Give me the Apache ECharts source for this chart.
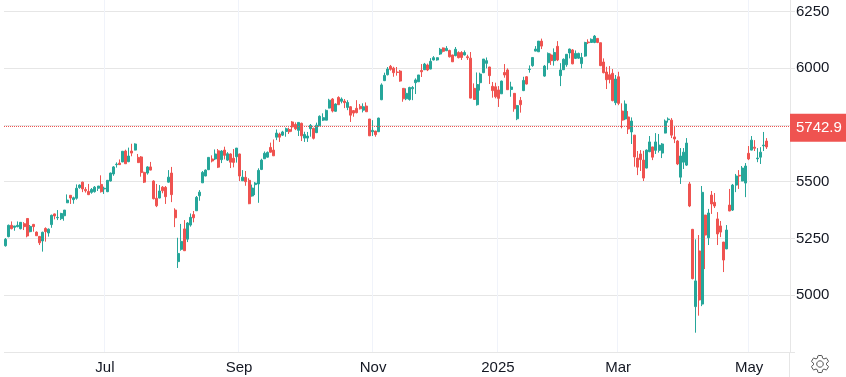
<!DOCTYPE html>
<html><head><meta charset="utf-8">
<style>html,body{margin:0;padding:0;background:#fff}#c{width:846px;height:377px}</style>
<script src="https://cdn.jsdelivr.net/npm/echarts@6/dist/echarts.min.js"></script>
</head><body><div id="c"></div>
<script>
const opens = [
5218,5258,5308,5299,5302,5293,5315,5338,5280,5312,
5278,5259,5239,5294,5274,5311,5358,5341,5337,5350,
5407,5440,5421,5427,5474,5498,5466,5457,5453,5456,
5471,5488,5468,5456,5503,5534,5575,5582,5587,5635,
5588,5635,5639,5607,5609,5541,5538,5565,5503,5427,
5428,5476,5475,5498,5538,5375,5148,5202,5292,5247,
5309,5355,5372,5438,5495,5525,5553,5600,5600,5636,
5597,5639,5595,5622,5603,5610,5622,5504,5519,5506,
5437,5487,5490,5554,5601,5608,5651,5639,5696,5710,
5705,5721,5730,5763,5752,5726,5757,5692,5692,5733,
5735,5716,5746,5771,5771,5824,5864,5810,5871,5854,
5855,5827,5830,5813,5823,5832,5815,5833,5776,5720,
5723,5720,5861,5945,5971,6008,6000,5983,5987,5911,
5865,5862,5909,5936,5940,5990,5993,6014,5996,6036,
6036,6062,6089,6077,6078,6058,6055,6069,6069,6058,
6050,6044,5911,5839,5936,5980,6021,6005,5920,5918,
5904,5887,5981,5992,5906,5889,5777,5858,5901,5962,
5994,6011,6075,6072,6119,5965,6024,6058,6033,6096,
5967,5993,6015,6067,6080,6043,6044,6020,6053,6115,
6113,6113,6131,6112,6027,5983,5971,5977,5848,5962,
5811,5776,5785,5719,5705,5604,5622,5595,5560,5632,
5653,5638,5638,5626,5714,5773,5771,5697,5679,5520,
5586,5573,5490,5290,4950,5195,4961,5353,5253,5441,
5409,5336,5305,5234,5204,5397,5375,5485,5528,5503,
5494,5625,5639,5652,5601,5608,5658,5679];
const closes = [
5246,5308,5293,5305,5308,5321,5302,5261,5303,5302,
5262,5231,5277,5280,5291,5352,5349,5343,5360,5375,
5419,5428,5429,5471,5485,5468,5460,5443,5466,5476,
5481,5456,5471,5506,5538,5565,5577,5575,5634,5579,
5613,5626,5666,5584,5540,5498,5565,5551,5425,5394,
5459,5460,5434,5520,5443,5341,5184,5237,5196,5318,
5343,5341,5431,5454,5541,5551,5607,5591,5622,5564,
5635,5616,5623,5586,5585,5648,5525,5520,5500,5403,
5472,5494,5550,5595,5625,5629,5630,5614,5714,5696,
5719,5733,5720,5741,5733,5761,5702,5708,5701,5748,
5691,5749,5788,5782,5814,5859,5811,5842,5839,5864,
5848,5849,5793,5802,5804,5821,5830,5808,5702,5726,
5707,5780,5926,5968,5996,5995,5980,5981,5943,5865,
5889,5915,5915,5948,5970,5984,6018,5992,6030,6046,
6046,6083,6074,6087,6050,6028,6083,6046,6047,6069,
6046,5868,5862,5928,5974,6040,6033,5967,5901,5874,
5867,5943,5970,5905,5917,5821,5835,5839,5946,5930,
5996,6047,6084,6119,6097,6009,6065,6033,6069,6036,
5992,6039,6061,6084,6019,6065,6065,6047,6113,6112,
6127,6141,6113,6011,5980,5949,5950,5857,5952,5845,
5771,5842,5732,5767,5609,5564,5597,5516,5639,5675,
5608,5675,5661,5666,5767,5776,5705,5688,5578,5613,
5630,5670,5393,5073,5063,4979,5453,5265,5362,5402,
5393,5270,5278,5155,5287,5371,5485,5525,5525,5560,
5569,5600,5683,5647,5604,5630,5661,5653];
const lows = [
5214,5255,5290,5284,5299,5290,5287,5255,5277,5280,
5261,5221,5192,5236,5258,5297,5334,5331,5331,5328,
5406,5402,5403,5421,5469,5454,5452,5441,5447,5452,
5459,5452,5446,5454,5501,5526,5562,5574,5586,5578,
5586,5612,5638,5583,5522,5494,5531,5550,5422,5388,
5427,5449,5402,5496,5410,5300,5120,5196,5196,5234,
5302,5321,5371,5416,5494,5524,5551,5585,5595,5560,
5582,5598,5591,5560,5563,5584,5503,5503,5482,5401,
5434,5441,5407,5551,5600,5606,5628,5613,5683,5675,
5701,5698,5710,5720,5727,5701,5679,5675,5675,5698,
5686,5714,5745,5767,5770,5823,5805,5808,5838,5845,
5824,5815,5763,5786,5801,5818,5805,5807,5701,5701,
5698,5719,5859,5943,5968,5989,5962,5967,5940,5852,
5859,5857,5859,5886,5939,5961,5992,5987,5995,6034,
6033,6058,6069,6075,6047,6027,6052,6043,6036,6056,
6036,5867,5861,5835,5901,5978,5999,5930,5870,5867,
5829,5886,5958,5904,5874,5808,5771,5804,5899,5928,
5980,6006,6074,6071,6084,5962,5993,6014,6011,6031,
5921,5992,6006,6043,6017,6040,6041,5999,6050,6106,
6112,6110,6110,6009,5977,5908,5933,5854,5837,5837,
5735,5771,5710,5666,5566,5529,5547,5503,5559,5630,
5595,5622,5628,5604,5713,5760,5692,5670,5573,5490,
5556,5569,5388,5070,4835,4910,4952,5115,5221,5358,
5384,5221,5256,5102,5203,5370,5371,5454,5468,5502,
5432,5595,5638,5635,5586,5578,5635,5644];
const highs = [
5252,5311,5325,5305,5325,5322,5322,5338,5309,5314,
5281,5261,5280,5299,5294,5355,5360,5375,5363,5375,
5444,5441,5434,5488,5488,5500,5476,5490,5472,5481,
5481,5528,5478,5507,5540,5569,5585,5598,5635,5641,
5650,5667,5669,5622,5613,5544,5568,5587,5506,5490,
5485,5481,5481,5551,5565,5383,5253,5314,5331,5322,
5360,5371,5437,5463,5547,5554,5608,5616,5642,5644,
5639,5654,5630,5625,5644,5648,5623,5551,5547,5515,
5487,5498,5559,5601,5633,5633,5672,5686,5730,5716,
5724,5738,5738,5767,5761,5761,5760,5720,5719,5754,
5738,5760,5792,5801,5818,5865,5868,5845,5876,5871,
5864,5859,5833,5815,5859,5842,5845,5849,5776,5771,
5724,5782,5933,5980,6005,6014,6006,6005,5992,5912,
5911,5918,5921,5955,5970,6018,6023,6020,6044,6053,
6047,6089,6091,6097,6081,6059,6093,6074,6075,6078,
6059,6071,5933,5981,5980,6040,6047,6006,5939,5936,
5921,5945,6018,5999,5940,5890,5838,5873,5962,5965,
6012,6049,6097,6119,6130,6014,6069,6064,6087,6119,
6022,6043,6062,6086,6084,6078,6068,6067,6116,6127,
6131,6146,6132,6112,6043,6006,6009,5996,5970,5984,
5845,5858,5811,5783,5706,5635,5639,5636,5642,5701,
5654,5714,5710,5670,5774,5783,5780,5741,5683,5648,
5648,5692,5499,5292,5246,5265,5481,5354,5380,5459,
5450,5366,5327,5235,5309,5468,5490,5534,5551,5569,
5582,5657,5701,5683,5648,5652,5719,5692];
const monthLabels = ['Jul','Sep','Nov','2025','Mar','May'];
const monthSlots = [65,152,239,320,398,483]; // half-bar slots on the label axis
const priceLabels = [5000,5250,5500,6000,6250];
const lastPrice = 5742.9;
const totalBars = 255;      // candles plus the empty space on the right

const UP = '#26a69a', DOWN = '#ef5350', INK = '#131722';
const bars = opens.map((o,i)=>[o,closes[i],lows[i],highs[i]]);
const barCats = Array.from({length:totalBars},(_,i)=>String(i));
const slotCats = Array.from({length:totalBars*2},(_,i)=>{
  const p = monthSlots.indexOf(i); return p>=0?monthLabels[p]:'';
});
const isSlot = i => monthSlots.includes(i);
const GEAR = 'M19.14 12.94c.04-.3.06-.61.06-.94 0-.32-.02-.64-.07-.94l2.03-1.58c.18-.14.23-.41.12-.61l-1.92-3.32c-.12-.22-.37-.29-.59-.22l-2.39.96c-.5-.38-1.03-.7-1.62-.94l-.36-2.54c-.04-.24-.24-.41-.48-.41h-3.84c-.24 0-.43.17-.47.41l-.36 2.54c-.59.24-1.13.57-1.62.94l-2.39-.96c-.22-.08-.47 0-.59.22L2.74 8.87c-.12.21-.08.47.12.61l2.03 1.58c-.05.3-.09.63-.09.94s.02.64.07.94l-2.03 1.58c-.18.14-.23.41-.12.61l1.92 3.32c.12.22.37.29.59.22l2.39-.96c.5.38 1.03.7 1.62.94l.36 2.54c.05.24.24.41.48.41h3.84c.24 0 .44-.17.47-.41l.36-2.54c.59-.24 1.13-.56 1.62-.94l2.39.96c.22.08.47 0 .59-.22l1.92-3.32c.12-.22.07-.47-.12-.61l-2.01-1.58zM12 15.6c-1.98 0-3.6-1.62-3.6-3.6s1.62-3.6 3.6-3.6 3.6 1.62 3.6 3.6-1.62 3.6-3.6 3.6z';

const chart = echarts.init(document.getElementById('c'),null,{renderer:'canvas'});
chart.setOption({
  animation:false,
  backgroundColor:'#fff',
  textStyle:{fontFamily:'"Liberation Sans",Arial,sans-serif'},
  grid:{left:4,right:56,top:-45.4,height:397.4,containLabel:false,outerBoundsMode:'none'},
  xAxis:[
    {type:'category',data:barCats,boundaryGap:true,show:false},
    {type:'category',data:slotCats,boundaryGap:true,position:'bottom',
     axisLine:{show:false},axisTick:{show:false},
     axisLabel:{show:true,interval:i=>isSlot(i),color:INK,fontSize:15,margin:8,hideOverlap:false,
       fontFamily:'"Liberation Sans",Arial,sans-serif'},
     splitLine:{show:true,interval:i=>isSlot(i),lineStyle:{color:'#f0f3fa',width:1}}}
  ],
  yAxis:{type:'value',position:'right',min:4750,max:6500,interval:250,scale:false,
    axisLine:{show:true,lineStyle:{color:'#e6e6e6',width:1}},
    axisTick:{show:true,length:5,lineStyle:{color:'#e6e6e6'}},
    axisLabel:{color:INK,fontSize:15,margin:6,showMinLabel:true,showMaxLabel:true,
      fontFamily:'"Liberation Sans",Arial,sans-serif',
      formatter:v=>priceLabels.includes(v)?String(v):''},
    splitLine:{show:true,lineStyle:{color:'#e6e6e6',width:1}}},
  series:[{
    type:'candlestick',xAxisIndex:0,data:bars,barWidth:2.5,
    itemStyle:{color:UP,color0:DOWN,borderColor:UP,borderColor0:DOWN,borderWidth:1},
    markLine:{silent:true,symbol:['none','none'],animation:false,
      lineStyle:{type:'dotted',color:DOWN,width:1},
      label:{show:true,position:'end',distance:0,offset:[0,1.3],formatter:()=>lastPrice.toFixed(1),
        color:'#fff',backgroundColor:DOWN,fontSize:15,padding:[7,5,6,6],
        fontFamily:'"Liberation Sans",Arial,sans-serif'},
      data:[{yAxis:lastPrice}]}
  },{
    type:'custom',coordinateSystem:'none',silent:true,data:[[0]],
    renderItem:()=>({type:'path',
      shape:{pathData:GEAR,layout:'cover',x:811.5,y:355.5,width:17,height:17},
      style:{fill:'none',stroke:'#555',lineWidth:1}})
  }],
  graphic:[
    {type:'line',silent:true,shape:{x1:789.5,y1:352,x2:789.5,y2:377},style:{stroke:'#e6e6e6',lineWidth:1}}
  ]
});
</script></body></html>
